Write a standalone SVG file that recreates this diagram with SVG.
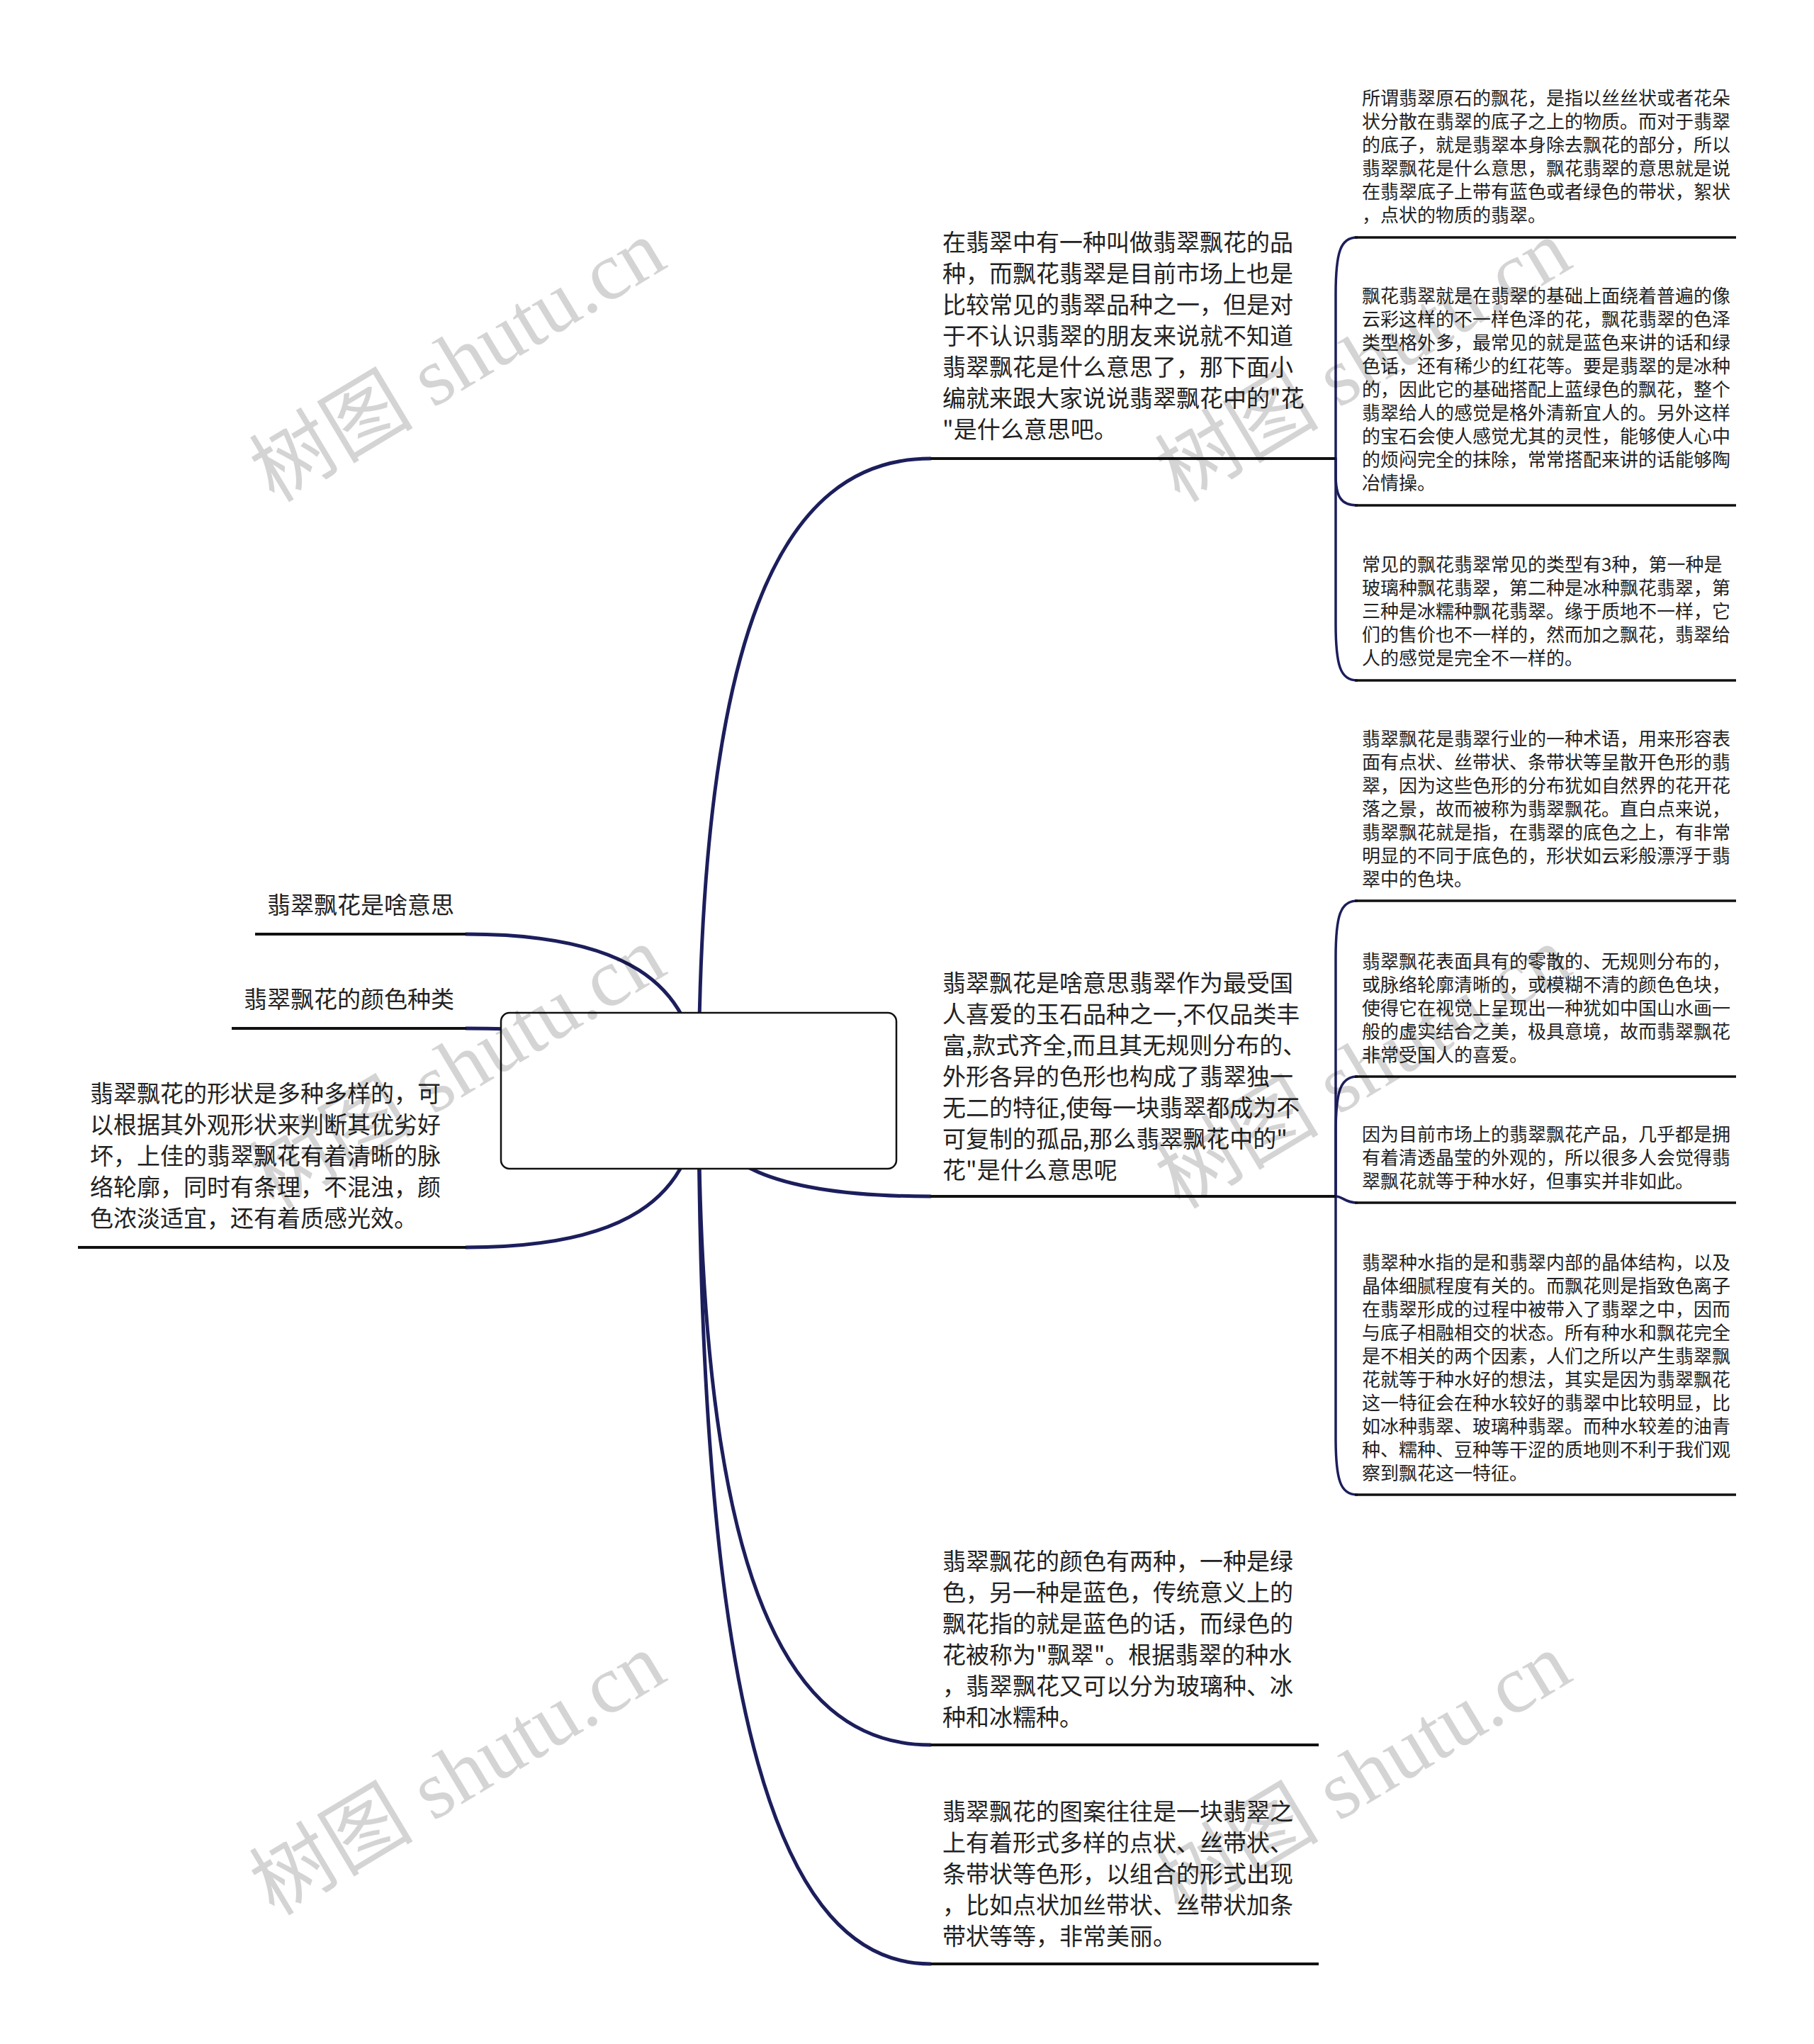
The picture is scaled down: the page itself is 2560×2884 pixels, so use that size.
<svg xmlns="http://www.w3.org/2000/svg" width="2560" height="2884" viewBox="0 0 2560 2884">
<style>
.t{font-family:"Noto Sans CJK SC","Noto Sans",sans-serif;fill:#222}
.t1{font-size:33px}
.t2{font-size:26px}
.c{fill:none;stroke:#1c1e5c;stroke-width:5;stroke-linecap:round}
.c2{fill:none;stroke:#1c1e5c;stroke-width:3.5;stroke-linecap:round}
.u{stroke:#111;stroke-width:4}
.u2{stroke:#111;stroke-width:3.5}
.wm{font-family:"Liberation Serif","Noto Sans CJK SC",serif;font-size:116px;fill:#000;fill-opacity:0.17}
</style>
<rect width="2560" height="2884" fill="#fff"/>
<g id="connectors">
<path class="c" d="M986,1539 C986,897 1100,647 1313,647"/>
<path class="c" d="M986,1539 C986,1646 1100,1688 1313,1688"/>
<path class="c" d="M986,1539 C986,2204 1100,2462 1313,2462"/>
<path class="c" d="M986,1539 C986,2426 1100,2771 1313,2771"/>
<path class="c" d="M986,1539 C986,1380 871,1318 658,1318"/>
<path class="c" d="M986,1539 C986,1476 871,1451 658,1451"/>
<path class="c" d="M986,1539 C986,1698 871,1760 658,1760"/>
<path class="c2" d="M1885,647 L1885,415 C1885,355 1892,335 1915,335"/>
<path class="c2" d="M1885,647 L1885,670 C1885,700 1892,713 1915,713"/>
<path class="c2" d="M1885,647 L1885,880 C1885,940 1892,960 1915,960"/>
<path class="c2" d="M1885,1688 L1885,1351 C1885,1291 1892,1271 1915,1271"/>
<path class="c2" d="M1885,1688 L1885,1599 C1885,1539 1892,1519 1915,1519"/>
<path class="c2" d="M1885,1688 C1895,1688 1898,1697 1915,1697"/>
<path class="c2" d="M1885,1688 L1885,2029 C1885,2089 1892,2109 1915,2109"/>
</g>
<g id="root">
<rect x="707" y="1429" width="558" height="220" rx="12" fill="#fff" stroke="#111" stroke-width="2.5"/>
</g>
<g id="L1">
<line class="u" x1="360" y1="1318" x2="658" y2="1318"/>
<text class="t t1" x="377" y="1289">翡翠飘花是啥意思</text>
</g>
<g id="L2">
<line class="u" x1="327" y1="1451" x2="658" y2="1451"/>
<text class="t t1" x="344" y="1422">翡翠飘花的颜色种类</text>
</g>
<g id="L3">
<line class="u" x1="110" y1="1760" x2="658" y2="1760"/>
<text class="t t1" x="127" y="1555"><tspan x="127">翡翠飘花的形状是多种多样的，可</tspan><tspan x="127" dy="44">以根据其外观形状来判断其优劣好</tspan><tspan x="127" dy="44">坏，上佳的翡翠飘花有着清晰的脉</tspan><tspan x="127" dy="44">络轮廓，同时有条理，不混浊，颜</tspan><tspan x="127" dy="44">色浓淡适宜，还有着质感光效。</tspan></text>
</g>
<g id="R1">
<line class="u" x1="1313" y1="647" x2="1885" y2="647"/>
<text class="t t1" x="1330" y="354"><tspan x="1330">在翡翠中有一种叫做翡翠飘花的品</tspan><tspan x="1330" dy="44">种，而飘花翡翠是目前市场上也是</tspan><tspan x="1330" dy="44">比较常见的翡翠品种之一，但是对</tspan><tspan x="1330" dy="44">于不认识翡翠的朋友来说就不知道</tspan><tspan x="1330" dy="44">翡翠飘花是什么意思了，那下面小</tspan><tspan x="1330" dy="44">编就来跟大家说说翡翠飘花中的"花</tspan><tspan x="1330" dy="44">"是什么意思吧。</tspan></text>
</g>
<g id="R2">
<line class="u" x1="1313" y1="1688" x2="1885" y2="1688"/>
<text class="t t1" x="1330" y="1399"><tspan x="1330">翡翠飘花是啥意思翡翠作为最受国</tspan><tspan x="1330" dy="44">人喜爱的玉石品种之一,不仅品类丰</tspan><tspan x="1330" dy="44">富,款式齐全,而且其无规则分布的、</tspan><tspan x="1330" dy="44">外形各异的色形也构成了翡翠独一</tspan><tspan x="1330" dy="44">无二的特征,使每一块翡翠都成为不</tspan><tspan x="1330" dy="44">可复制的孤品,那么翡翠飘花中的"</tspan><tspan x="1330" dy="44">花"是什么意思呢</tspan></text>
</g>
<g id="R3">
<line class="u" x1="1313" y1="2462" x2="1861" y2="2462"/>
<text class="t t1" x="1330" y="2215"><tspan x="1330">翡翠飘花的颜色有两种，一种是绿</tspan><tspan x="1330" dy="44">色，另一种是蓝色，传统意义上的</tspan><tspan x="1330" dy="44">飘花指的就是蓝色的话，而绿色的</tspan><tspan x="1330" dy="44">花被称为"飘翠"。根据翡翠的种水</tspan><tspan x="1330" dy="44">，翡翠飘花又可以分为玻璃种、冰</tspan><tspan x="1330" dy="44">种和冰糯种。</tspan></text>
</g>
<g id="R4">
<line class="u" x1="1313" y1="2771" x2="1861" y2="2771"/>
<text class="t t1" x="1330" y="2568"><tspan x="1330">翡翠飘花的图案往往是一块翡翠之</tspan><tspan x="1330" dy="44">上有着形式多样的点状、丝带状、</tspan><tspan x="1330" dy="44">条带状等色形，以组合的形式出现</tspan><tspan x="1330" dy="44">，比如点状加丝带状、丝带状加条</tspan><tspan x="1330" dy="44">带状等等，非常美丽。</tspan></text>
</g>
<g id="R1a">
<line class="u2" x1="1912" y1="335" x2="2450" y2="335"/>
<text class="t t2" x="1922" y="148"><tspan x="1922">所谓翡翠原石的飘花，是指以丝丝状或者花朵</tspan><tspan x="1922" dy="33">状分散在翡翠的底子之上的物质。而对于翡翠</tspan><tspan x="1922" dy="33">的底子，就是翡翠本身除去飘花的部分，所以</tspan><tspan x="1922" dy="33">翡翠飘花是什么意思，飘花翡翠的意思就是说</tspan><tspan x="1922" dy="33">在翡翠底子上带有蓝色或者绿色的带状，絮状</tspan><tspan x="1922" dy="33">，点状的物质的翡翠。</tspan></text>
</g>
<g id="R1b">
<line class="u2" x1="1912" y1="713" x2="2450" y2="713"/>
<text class="t t2" x="1922" y="427"><tspan x="1922">飘花翡翠就是在翡翠的基础上面绕着普遍的像</tspan><tspan x="1922" dy="33">云彩这样的不一样色泽的花，飘花翡翠的色泽</tspan><tspan x="1922" dy="33">类型格外多，最常见的就是蓝色来讲的话和绿</tspan><tspan x="1922" dy="33">色话，还有稀少的红花等。要是翡翠的是冰种</tspan><tspan x="1922" dy="33">的，因此它的基础搭配上蓝绿色的飘花，整个</tspan><tspan x="1922" dy="33">翡翠给人的感觉是格外清新宜人的。另外这样</tspan><tspan x="1922" dy="33">的宝石会使人感觉尤其的灵性，能够使人心中</tspan><tspan x="1922" dy="33">的烦闷完全的抹除，常常搭配来讲的话能够陶</tspan><tspan x="1922" dy="33">冶情操。</tspan></text>
</g>
<g id="R1c">
<line class="u2" x1="1912" y1="960" x2="2450" y2="960"/>
<text class="t t2" x="1922" y="806"><tspan x="1922">常见的飘花翡翠常见的类型有3种，第一种是</tspan><tspan x="1922" dy="33">玻璃种飘花翡翠，第二种是冰种飘花翡翠，第</tspan><tspan x="1922" dy="33">三种是冰糯种飘花翡翠。缘于质地不一样，它</tspan><tspan x="1922" dy="33">们的售价也不一样的，然而加之飘花，翡翠给</tspan><tspan x="1922" dy="33">人的感觉是完全不一样的。</tspan></text>
</g>
<g id="R2a">
<line class="u2" x1="1912" y1="1271" x2="2450" y2="1271"/>
<text class="t t2" x="1922" y="1052"><tspan x="1922">翡翠飘花是翡翠行业的一种术语，用来形容表</tspan><tspan x="1922" dy="33">面有点状、丝带状、条带状等呈散开色形的翡</tspan><tspan x="1922" dy="33">翠，因为这些色形的分布犹如自然界的花开花</tspan><tspan x="1922" dy="33">落之景，故而被称为翡翠飘花。直白点来说，</tspan><tspan x="1922" dy="33">翡翠飘花就是指，在翡翠的底色之上，有非常</tspan><tspan x="1922" dy="33">明显的不同于底色的，形状如云彩般漂浮于翡</tspan><tspan x="1922" dy="33">翠中的色块。</tspan></text>
</g>
<g id="R2b">
<line class="u2" x1="1912" y1="1519" x2="2450" y2="1519"/>
<text class="t t2" x="1922" y="1366"><tspan x="1922">翡翠飘花表面具有的零散的、无规则分布的，</tspan><tspan x="1922" dy="33">或脉络轮廓清晰的，或模糊不清的颜色色块，</tspan><tspan x="1922" dy="33">使得它在视觉上呈现出一种犹如中国山水画一</tspan><tspan x="1922" dy="33">般的虚实结合之美，极具意境，故而翡翠飘花</tspan><tspan x="1922" dy="33">非常受国人的喜爱。</tspan></text>
</g>
<g id="R2c">
<line class="u2" x1="1912" y1="1697" x2="2450" y2="1697"/>
<text class="t t2" x="1922" y="1610"><tspan x="1922">因为目前市场上的翡翠飘花产品，几乎都是拥</tspan><tspan x="1922" dy="33">有着清透晶莹的外观的，所以很多人会觉得翡</tspan><tspan x="1922" dy="33">翠飘花就等于种水好，但事实并非如此。</tspan></text>
</g>
<g id="R2d">
<line class="u2" x1="1912" y1="2109" x2="2450" y2="2109"/>
<text class="t t2" x="1922" y="1791"><tspan x="1922">翡翠种水指的是和翡翠内部的晶体结构，以及</tspan><tspan x="1922" dy="33">晶体细腻程度有关的。而飘花则是指致色离子</tspan><tspan x="1922" dy="33">在翡翠形成的过程中被带入了翡翠之中，因而</tspan><tspan x="1922" dy="33">与底子相融相交的状态。所有种水和飘花完全</tspan><tspan x="1922" dy="33">是不相关的两个因素，人们之所以产生翡翠飘</tspan><tspan x="1922" dy="33">花就等于种水好的想法，其实是因为翡翠飘花</tspan><tspan x="1922" dy="33">这一特征会在种水较好的翡翠中比较明显，比</tspan><tspan x="1922" dy="33">如冰种翡翠、玻璃种翡翠。而种水较差的油青</tspan><tspan x="1922" dy="33">种、糯种、豆种等干涩的质地则不利于我们观</tspan><tspan x="1922" dy="33">察到飘花这一特征。</tspan></text>
</g>
<g id="watermarks">
<text class="wm" text-anchor="middle" transform="translate(666,543) rotate(-31)">树图 shutu.cn</text>
<text class="wm" text-anchor="middle" transform="translate(1944,543) rotate(-31)">树图 shutu.cn</text>
<text class="wm" text-anchor="middle" transform="translate(666,1540) rotate(-31)">树图 shutu.cn</text>
<text class="wm" text-anchor="middle" transform="translate(1944,1540) rotate(-31)">树图 shutu.cn</text>
<text class="wm" text-anchor="middle" transform="translate(666,2537) rotate(-31)">树图 shutu.cn</text>
<text class="wm" text-anchor="middle" transform="translate(1944,2537) rotate(-31)">树图 shutu.cn</text>
</g>
</svg>
